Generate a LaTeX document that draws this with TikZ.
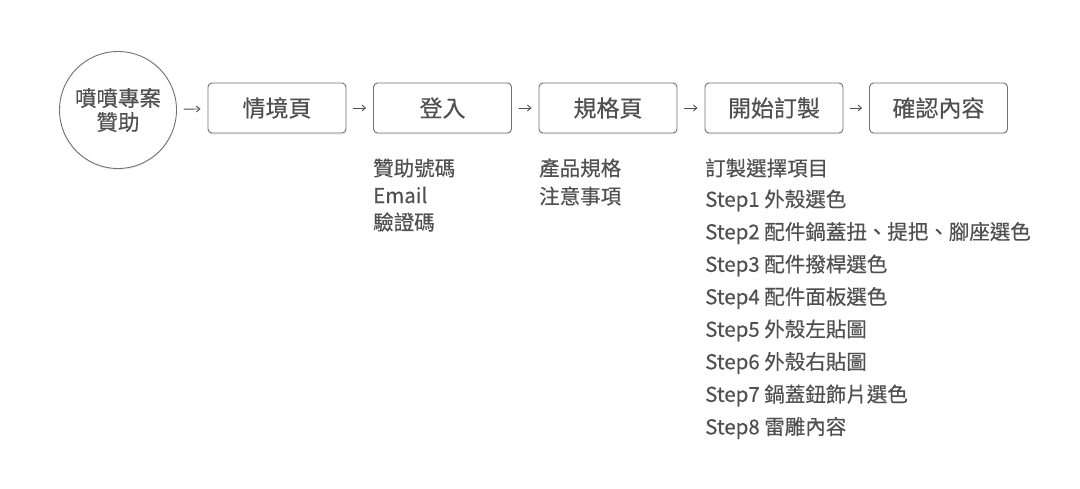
\documentclass[tikz,border=0pt]{standalone}
\usepackage{fontspec}
\setmainfont{Noto Sans CJK TC}[FakeBold=0.35]
\usetikzlibrary{arrows.meta,shadows}
\definecolor{inkgray}{RGB}{80,80,80}
\definecolor{framegray}{RGB}{112,112,112}

\begin{document}
\begin{tikzpicture}[x=1pt,y=-1pt,line cap=round,line join=round,
  >={Straight Barb[length=3.5pt,width=6pt]},
  stage/.style={draw=framegray,line width=.9pt,rounded corners=4pt,fill=white,text=inkgray,
    minimum width=138pt,minimum height=50pt,inner sep=0pt,
    font=\fontsize{23}{26}\selectfont,
    drop shadow={shadow xshift=0pt,shadow yshift=-1.5pt,opacity=.12}},
  start/.style={draw=framegray,line width=.9pt,circle,fill=white,text=inkgray,minimum size=117pt,
    inner sep=0pt,align=center,font=\fontsize{21.5}{24}\selectfont,
    drop shadow={shadow xshift=0pt,shadow yshift=-1.5pt,opacity=.12}},
  item/.style={anchor=west,inner sep=0pt,text=inkgray,font=\fontsize{20.5}{22}\selectfont},
  flow/.style={->,draw=inkgray,line width=.9pt,shorten <=7pt,shorten >=7pt}]
  \useasboundingbox (0,0) rectangle (1080,488);

  % steps of the flow
  \node[start] (sponsor) at (118,110) {噴噴專案\\贊助};
  \node[stage] (scene) at (277,108) {情境頁};
  \node[stage] (login) at (442.5,108) {登入};
  \node[stage] (spec) at (608,108) {規格頁};
  \node[stage] (custom) at (774,108) {開始訂製};
  \node[stage] (confirm) at (938.5,108) {確認內容};

  \draw[flow] (sponsor) -- (scene);
  \draw[flow] (scene) -- (login);
  \draw[flow] (login) -- (spec);
  \draw[flow] (spec) -- (custom);
  \draw[flow] (custom) -- (confirm);

  % notes under the boxes
  \node[item] (login1) at (373,168) {贊助號碼};
  \node[item] (login2) at (373,195) {Email};
  \node[item] (login3) at (373,222) {驗證碼};

  \node[item] (spec1) at (539,168) {產品規格};
  \node[item] (spec2) at (539,196) {注意事項};

  \node[item] (custom0) at (705,168) {訂製選擇項目};
  \node[item] (custom1) at (705,200.5) {Step1 外殼選色};
  \node[item] (custom2) at (705,233) {Step2 配件鍋蓋扭、提把、腳座選色};
  \node[item] (custom3) at (705,265.5) {Step3 配件撥桿選色};
  \node[item] (custom4) at (705,298) {Step4 配件面板選色};
  \node[item] (custom5) at (705,330.5) {Step5 外殼左貼圖};
  \node[item] (custom6) at (705,363) {Step6 外殼右貼圖};
  \node[item] (custom7) at (705,395.5) {Step7 鍋蓋鈕飾片選色};
  \node[item] (custom8) at (705,428) {Step8 雷雕內容};
\end{tikzpicture}
\end{document}
